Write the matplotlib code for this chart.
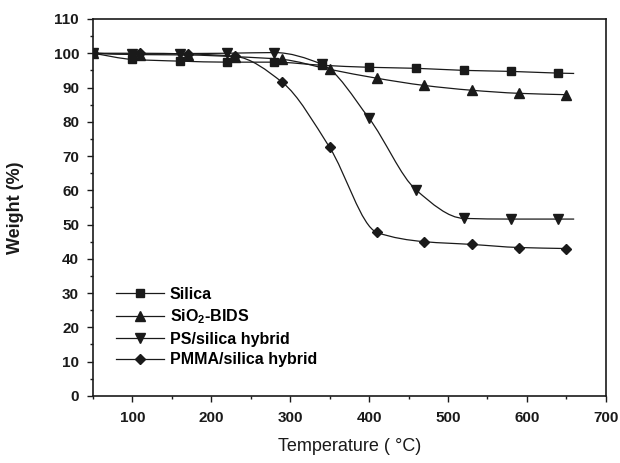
import numpy as np
import matplotlib
matplotlib.use("Agg")
import matplotlib.pyplot as plt
from matplotlib.path import Path
from matplotlib.patches import PathPatch
from matplotlib.lines import Line2D

plt.rcParams["font.family"] = ["Liberation Sans", "DejaVu Sans"]
plt.rcParams["mathtext.fontset"] = "custom"
plt.rcParams["mathtext.rm"] = "Liberation Sans:bold"
plt.rcParams["mathtext.it"] = "Liberation Sans:bold"
plt.rcParams["mathtext.default"] = "rm"

# data
t_silica = [50, 100, 160, 220, 280, 340, 400, 460, 520, 580, 640, 660]
w_silica = [100, 98.2, 97.7, 97.4, 97.4, 96.5, 95.9, 95.6, 95.0, 94.7, 94.2, 94.1]

t_bids = [50, 110, 170, 230, 290, 350, 410, 470, 530, 590, 650]
w_bids = [100, 99.6, 99.5, 99.0, 98.2, 95.3, 92.7, 90.6, 89.2, 88.3, 87.9]

t_ps = [50, 100, 160, 220, 280, 340, 400, 460, 520, 580, 640, 660]
w_ps = [100, 99.7, 99.9, 100.0, 100.2, 96.8, 81.0, 60.0, 51.8, 51.6, 51.6, 51.6]

t_pmma = [50, 110, 170, 230, 290, 350, 410, 470, 530, 590, 650]
w_pmma = [100, 100.0, 99.8, 99.1, 91.5, 72.5, 47.7, 45.0, 44.2, 43.3, 43.0]

series = [
    ("Silica", t_silica, w_silica, "s", 5.5, True),
    ("SiO$_2$-BIDS", t_bids, w_bids, "^", 6.5, False),
    ("PS/silica hybrid", t_ps, w_ps, "v", 6.5, True),
    ("PMMA/silica hybrid", t_pmma, w_pmma, "D", 5.0, False),
]

col = "#1a1a1a"


def smooth_path(x, y):
    # monotone cubic (Fritsch-Carlson) through the points, as bezier segments
    x = np.asarray(x, float)
    y = np.asarray(y, float)
    h = np.diff(x)
    d = np.diff(y) / h
    m = np.zeros_like(y)
    m[0], m[-1] = d[0], d[-1]
    for i in range(1, len(y) - 1):
        if d[i - 1] * d[i] <= 0:
            m[i] = 0
        else:
            w1 = 2 * h[i] + h[i - 1]
            w2 = h[i] + 2 * h[i - 1]
            m[i] = (w1 + w2) / (w1 / d[i - 1] + w2 / d[i])
    verts = [(x[0], y[0])]
    codes = [Path.MOVETO]
    for i in range(len(x) - 1):
        verts += [(x[i] + h[i] / 3, y[i] + m[i] * h[i] / 3),
                  (x[i + 1] - h[i] / 3, y[i + 1] - m[i + 1] * h[i] / 3),
                  (x[i + 1], y[i + 1])]
        codes += [Path.CURVE4] * 3
    return Path(verts, codes)


fig = plt.figure(figsize=(6.2, 4.63), dpi=100)
ax = fig.add_axes([0.150, 0.145, 0.827, 0.814])

handles = []
for label, t, w, m, ms, extra_end in series:
    ax.add_patch(PathPatch(smooth_path(t, w), fill=False, edgecolor=col, lw=0.9))
    tm = t[:-1] if extra_end else t
    wm = w[:-1] if extra_end else w
    ax.plot(tm, wm, linestyle="none", marker=m, ms=ms, color=col)
    handles.append(Line2D([], [], color=col, lw=0.9, marker=m, ms=ms, label=label))

ax.set_xlim(50, 700)
ax.set_ylim(0, 110)
ax.set_xticks(range(100, 701, 100))
ax.set_xticks(range(50, 701, 50), minor=True)
ax.set_yticks(range(0, 111, 10))
ax.set_yticks(range(5, 111, 10), minor=True)
ax.tick_params(which="major", direction="out", length=4, width=1, labelsize=11, colors=col)
ax.tick_params(axis="x", which="major", pad=7)
ax.tick_params(axis="y", which="major", pad=6)
ax.tick_params(which="minor", direction="out", length=2.5, width=1, colors=col)
for lab in ax.get_xticklabels() + ax.get_yticklabels():
    lab.set_fontweight("bold")
for s in ax.spines.values():
    s.set_linewidth(1.2)
    s.set_color(col)

ax.set_xlabel("Temperature ( °C)", fontsize=13, color=col, labelpad=9)
ax.set_ylabel("Weight (%)", fontsize=13, fontweight="bold", color=col)
ax.yaxis.set_label_coords(-0.135, 0.5)

ax.legend(handles=handles, loc="upper left", bbox_to_anchor=(0.03, 0.31),
          frameon=False, handlelength=3.0, handletextpad=0.35,
          labelspacing=0.35, borderpad=0, prop={"weight": "bold", "size": 11.5})

fig.savefig("out.png", dpi=100)
